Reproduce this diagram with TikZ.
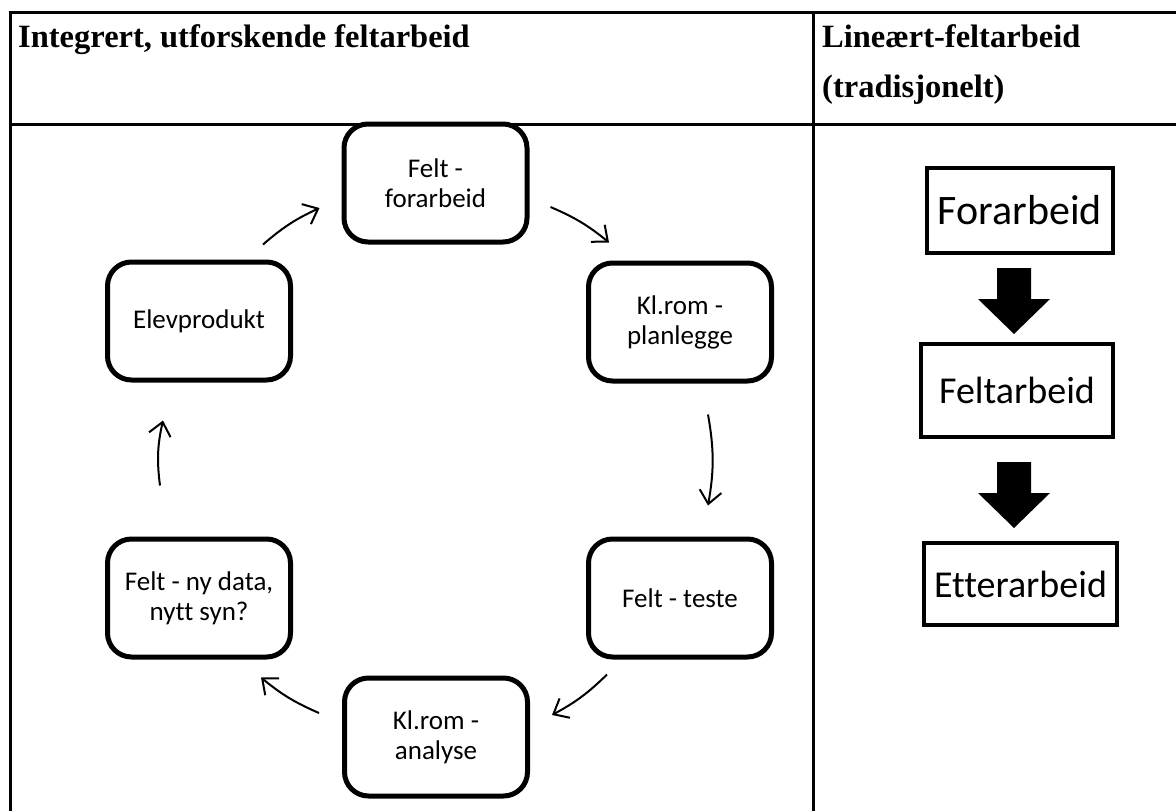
\documentclass[tikz,border=0pt]{standalone}
\usepackage{fontspec}
\setmainfont{Liberation Serif}
\newfontfamily\boxfont{Carlito}[Ligatures=NoCommon]
\usetikzlibrary{calc,positioning,arrows.meta}
\newcommand{\blkdown}[1]{\fill #1 ++(-17,0) -- ++(0,31) -- ++(-19,0) -- ++(36,35) -- ++(36,-35) -- ++(-19,0) -- ++(0,-31) -- cycle;}

\begin{document}
\begin{tikzpicture}[x=1pt,y=-1pt,
		cyclebox/.style={draw,line width=5pt,rounded corners=24pt,minimum width=183pt,minimum height=118pt,align=center,font=\boxfont\fontsize{27}{30}\selectfont},
		linbox/.style={draw,line width=4pt,inner sep=0pt,font=\boxfont\fontsize{38}{44}\selectfont},
		head/.style={anchor=base west,inner sep=0pt,font=\bfseries\fontsize{32.5}{36}\selectfont},
		flow/.style={line width=2pt,-{Straight Barb[length=13pt,width=22pt,line width=2pt]}}]
		\useasboundingbox (0,0) rectangle (1176,811);
		% table
		\draw[line width=3pt] (9,12) -- (1176,12) (9,124) -- (1176,124)
		(10,12) -- (10,811) (813,12) -- (813,811);
		\node[head] (h1) at (18,47) {Integrert, utforskende feltarbeid};
		\node[head] (h2) at (822,47) {Lineært-feltarbeid};
		\node[head] (h3) at ($(h2.base west)+(0,50)$) {(tradisjonelt)};
		% cycle
		\node[cyclebox] (feltfor) at (435.5,183) {Felt -\\forarbeid};
		\node[cyclebox] (planl) at (680,322) {Kl.rom -\\planlegge};
		\node[cyclebox] (teste) at (680,598) {Felt - teste};
		\node[cyclebox] (analyse) at (436,737) {Kl.rom -\\analyse};
		\node[cyclebox] (nydata) at (199,598) {Felt - ny data,\\nytt syn?};
		\node[cyclebox] (elev) at (199,321) {Elevprodukt};
		\draw[flow] ($(elev.north east)+(-30,-15)$) to[bend left=8] ($(feltfor.west)+(-22,25)$);
		\draw[flow] ($(feltfor.east)+(21,24)$) to[bend left=8] ($(planl.north west)+(23,-18)$);
		\draw[flow] ($(planl.south)+(28,31)$) to[bend left=10] ($(teste.north)+(28,-31)$);
		\draw[flow] ($(teste.south west)+(21,15)$) to[bend left=8] ($(analyse.east)+(22,-22)$);
		\draw[flow] ($(analyse.west)+(-23,-24)$) to[bend left=8] ($(nydata.south east)+(-32,18)$);
		\draw[flow] ($(nydata.north)+(-39,-51)$) to[bend left=10] ($(elev.south)+(-36,38)$);
		% linear
		\node[linbox,minimum width=186pt,minimum height=85pt,font=\boxfont\fontsize{42}{46}\selectfont] (forarb) at (1020,210.5) {Forarbeid};
		\node[linbox,minimum width=192pt,minimum height=93pt] (feltarb) at (1017,390.5) {Feltarbeid};
		\node[linbox,minimum width=193pt,minimum height=82pt] (etter) at (1020.5,584) {Etterarbeid};
		\blkdown{(1014,268)}
		\blkdown{(1014,462)}
	\end{tikzpicture}
\end{document}
